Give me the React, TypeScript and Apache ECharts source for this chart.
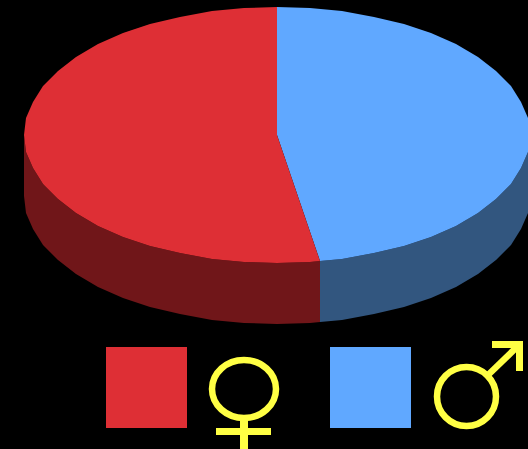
import React, { useEffect, useRef } from "react";
import * as echarts from "echarts";

// Share of each group, clockwise from twelve o'clock.
const groups = ["male", "female"];
const shares = [47.25, 52.75];
const topColors = ["#60a8ff", "#de2f35"];
const wallColors = ["#32567f", "#701619"];
const symbolColor = "#ffff44";

const WIDTH = 528;
const HEIGHT = 449;

// Projected disc geometry.
const CX = 277;
const CY = 135;
const RX = 253;
const RY = 128;
const DEPTH = 61;
const FACET = 7.5;

const total = shares.reduce((a, b) => a + b, 0);
const sliceStart = (i: number) =>
  (shares.slice(0, i).reduce((a, b) => a + b, 0) / total) * 360;

const rimPoint = (deg: number, dy = 0): number[] => {
  const t = (deg * Math.PI) / 180;
  return [
    Math.round(CX + RX * Math.sin(t)),
    Math.round(CY - RY * Math.cos(t) + dy),
  ];
};

// The rim is faceted: points fall on a fixed angular grid plus both arc ends.
const arcPoints = (from: number, to: number, dy = 0): number[][] => {
  const pts = [rimPoint(from, dy)];
  let a = (Math.floor(from / FACET) + 1) * FACET;
  for (; a < to; a += FACET) pts.push(rimPoint(a, dy));
  pts.push(rimPoint(to, dy));
  return pts;
};

const renderTop = (params: any) => {
  const i = params.dataIndex;
  const from = sliceStart(i);
  const to = sliceStart(i + 1);
  return {
    type: "polygon",
    shape: { points: [[CX, CY], ...arcPoints(from, to)] },
    style: { fill: topColors[i] },
  };
};

const renderWall = (params: any) => {
  const i = params.dataIndex;
  // Only the front half of the disc shows its side.
  const from = Math.max(sliceStart(i), 90);
  const to = Math.min(sliceStart(i + 1), 270);
  if (to <= from) return null;
  return {
    type: "polygon",
    shape: {
      points: [...arcPoints(from, to), ...arcPoints(from, to, DEPTH).reverse()],
    },
    style: { fill: wallColors[i] },
  };
};

const stroke = { stroke: symbolColor, lineWidth: 6.5, fill: "none" };
const solid = { fill: symbolColor };

const legendGraphics = [
  { type: "rect", shape: { x: 106, y: 347, width: 81, height: 81 }, style: { fill: topColors[1] } },
  { type: "rect", shape: { x: 330, y: 347, width: 81, height: 81 }, style: { fill: topColors[0] } },
  // Venus symbol
  { type: "ellipse", shape: { cx: 244, cy: 389, rx: 32, ry: 29 }, style: stroke },
  { type: "rect", shape: { x: 240, y: 420, width: 8, height: 29 }, style: solid },
  { type: "rect", shape: { x: 216, y: 428, width: 55, height: 7 }, style: solid },
  // Mars symbol
  { type: "ellipse", shape: { cx: 466.5, cy: 396.5, rx: 29.5, ry: 29.5 }, style: stroke },
  { type: "line", shape: { x1: 488, y1: 375, x2: 520, y2: 344 }, style: { stroke: symbolColor, lineWidth: 6.5 } },
  { type: "rect", shape: { x: 492, y: 341, width: 31, height: 7 }, style: solid },
  { type: "rect", shape: { x: 516, y: 341, width: 7, height: 30 }, style: solid },
];

export default function App() {
  const ref = useRef<HTMLDivElement>(null);

  useEffect(() => {
    if (!ref.current) return;
    document.body.style.margin = "0";
    document.body.style.background = "#000";
    const chart = echarts.init(ref.current, undefined, { renderer: "svg" });
    const data = shares.map((v, i) => ({ name: groups[i], value: [v] }));
    chart.setOption({
      animation: false,
      backgroundColor: "#000000",
      tooltip: { show: false },
      series: [
        { type: "custom", coordinateSystem: "none", silent: true, z: 1, renderItem: renderWall, data },
        { type: "custom", coordinateSystem: "none", silent: true, z: 2, renderItem: renderTop, data },
      ],
      graphic: legendGraphics,
    });
    return () => chart.dispose();
  }, []);

  return <div ref={ref} style={{ width: WIDTH, height: HEIGHT }} />;
}
